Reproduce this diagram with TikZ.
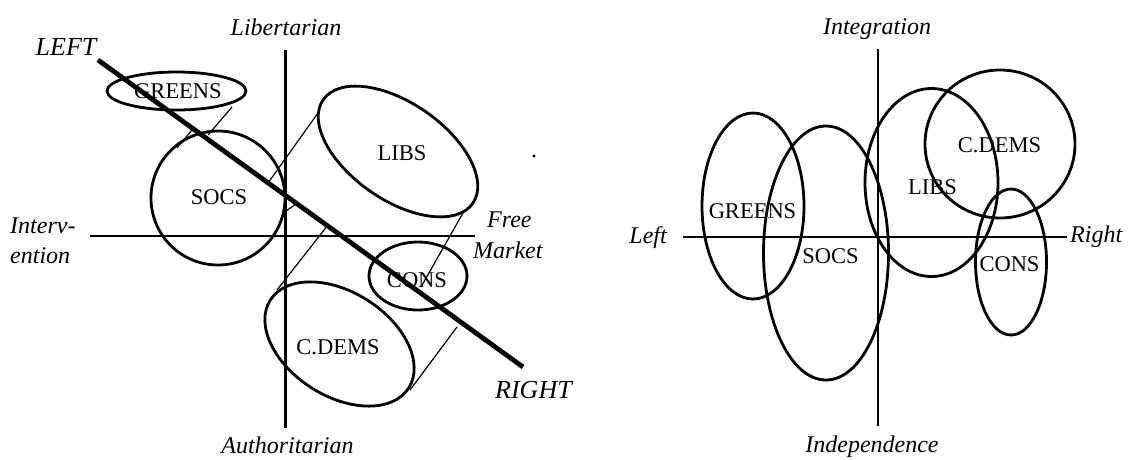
\documentclass[tikz,border=0pt]{standalone}
\usepackage{fontspec}
\setmainfont{Liberation Serif}
\usetikzlibrary{calc}
\begin{document}
\begin{tikzpicture}[x=1pt,y=-1pt,
  axis/.style={line width=2.8pt},
  spectrum/.style={line width=4.8pt},
  party/.style={line width=2.8pt},
  proj/.style={line width=1.2pt},
  partyname/.style={font=\fontsize{22.5}{27}\selectfont, inner sep=0pt},
  axislabel/.style={font=\fontsize{24}{28}\selectfont\itshape, inner sep=0pt},
  endlabel/.style={font=\fontsize{26}{30}\selectfont\itshape, inner sep=0pt}]
\useasboundingbox (0,0) rectangle (1133,459);

% ---------------- left panel: two axes plus the left/right spectrum ----------
\coordinate (LVt) at (285.5,50);  \coordinate (LVb) at (285.5,428);
\coordinate (LHl) at (90,236);    \coordinate (LHr) at (475,236);
\draw[axis] (LVt) -- (LVb);
\draw[axis] (LHl) -- (LHr);
\coordinate (LEnd) at (98,60);    \coordinate (REnd) at (523,367);
\draw[spectrum] (LEnd) -- (REnd);

% party ellipses
\draw[party] (176.5,91) ellipse [x radius=69.5, y radius=19];
\draw[party] (218,198) circle [radius=67];
\draw[party, rotate around={-34.7:(398,151.5)}] (398,151.5) ellipse [x radius=91, y radius=48.5];
\draw[party, rotate around={-32.4:(339.5,344)}] (339.5,344) ellipse [x radius=82, y radius=52];
\draw[party] (418,276) ellipse [x radius=49, y radius=34];

% projections of the parties onto the spectrum line
\coordinate (pa1) at (177,148); \coordinate (pa2) at (192,130);
\coordinate (pb1) at (232,107); \coordinate (pb2) at (208,135);
\coordinate (pc1) at (318,113); \coordinate (pc2) at (268,183);
\coordinate (pd1) at (286,211); \coordinate (pd2) at (296,204);
\coordinate (pe1) at (277,290); \coordinate (pe2) at (328,225);
\coordinate (pf1) at (463,213); \coordinate (pf2) at (421,287);
\coordinate (pg1) at (410,390); \coordinate (pg2) at (457,327);
\draw[proj] (pa1) -- (pa2);
\draw[proj] (pb1) -- (pb2);
\draw[proj] (pc1) -- (pc2);
\draw[proj] (pd1) -- (pd2);
\draw[proj] (pe1) -- (pe2);
\draw[proj] (pf1) -- (pf2);
\draw[proj] (pg1) -- (pg2);

% stray dot beside the LIBS ellipse
\fill (534,156) circle [radius=1.6];

% party names
\node[partyname] (lgreens) at (178,91.5) {GREENS};
\node[partyname] (lsocs)   at (219,197)  {SOCS};
\node[partyname] (llibs)   at (402,153)  {LIBS};
\node[partyname] (lcdems)  at (338,347)  {C.DEMS};
\node[partyname] (lcons)   at (417,280)  {CONS};

% axis and spectrum labels
\node[endlabel, anchor=base] (tLeft) at (66,55) {LEFT};
\node[endlabel, anchor=base west] (tRight) at (495,398) {RIGHT};
\node[axislabel, anchor=base] (tLib) at (286,35) {Libertarian};
\node[axislabel, anchor=base] (tAuth) at (287.5,453) {Authoritarian};
\node[axislabel, anchor=base west] (tInt1) at (10,233) {Interv-};
\node[axislabel, anchor=base west] (tInt2) at (10,263) {ention};
\node[axislabel, anchor=base west] (tFree1) at (487,227) {Free};
\node[axislabel, anchor=base west] (tFree2) at (473,258) {Market};

% ---------------- right panel --------------------------------------------------
\coordinate (RVt) at (878,49);   \coordinate (RVb) at (878,426);
\coordinate (RHl) at (683,237);  \coordinate (RHr) at (1067,237);
\draw[axis] (RVt) -- (RVb);
\draw[axis] (RHl) -- (RHr);

\draw[party] (753,206)    ellipse [x radius=51,   y radius=93];
\draw[party] (826,253)    ellipse [x radius=62.5, y radius=127];
\draw[party] (931.5,182.5) ellipse [x radius=66.5, y radius=94];
\draw[party] (1000,144)   ellipse [x radius=75,   y radius=74];
\draw[party] (1011,262)   ellipse [x radius=35.5, y radius=73];

\node[partyname] (rgreens) at (752.5,211.5) {GREENS};
\node[partyname] (rsocs)   at (830.5,256.5) {SOCS};
\node[partyname] (rlibs)   at (932.5,187.5) {LIBS};
\node[partyname] (rcdems)  at (999.5,145.5) {C.DEMS};
\node[partyname] (rcons)   at (1009.5,264.5) {CONS};

\node[axislabel, anchor=base] (tIntg) at (877,34) {Integration};
\node[axislabel, anchor=base] (tIndep) at (872,452) {Independence};
\node[axislabel, anchor=base east] (tLeftR) at (667,243) {Left};
\node[axislabel, anchor=base west] (tRightR) at (1070,242) {Right};
\end{tikzpicture}
\end{document}
